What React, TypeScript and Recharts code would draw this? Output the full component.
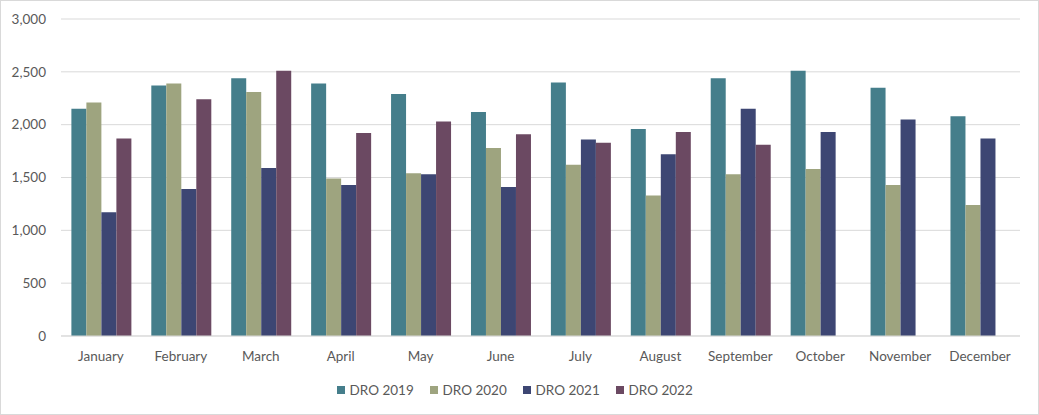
import React from "react"
import {
  BarChart,
  Bar,
  XAxis,
  YAxis,
  CartesianGrid,
} from "recharts"

// ---------------------------------------------------------------------------
// Données
// ---------------------------------------------------------------------------

const months = [
  "January", "February", "March", "April", "May", "June",
  "July", "August", "September", "October", "November", "December",
]

const dro2019 = [2150, 2370, 2440, 2390, 2290, 2120, 2400, 1960, 2440, 2510, 2350, 2080]
const dro2020 = [2210, 2390, 2310, 1490, 1540, 1780, 1620, 1330, 1530, 1580, 1430, 1240]
const dro2021 = [1170, 1390, 1590, 1430, 1530, 1410, 1860, 1720, 2150, 1930, 2050, 1870]
const dro2022 = [1870, 2240, 2510, 1920, 2030, 1910, 1830, 1930, 1810, null, null, null]

const yTicks = [0, 500, 1000, 1500, 2000, 2500, 3000]

const SERIES = [
  { key: "dro2019", name: "DRO 2019", color: "#457e8b" },
  { key: "dro2020", name: "DRO 2020", color: "#9ea47f" },
  { key: "dro2021", name: "DRO 2021", color: "#3d4673" },
  { key: "dro2022", name: "DRO 2022", color: "#6b4962" },
]

const data = months.map((m, i) => ({
  month: m,
  dro2019: dro2019[i],
  dro2020: dro2020[i],
  dro2021: dro2021[i],
  dro2022: dro2022[i],
}))

const FONT = "Lato, 'Open Sans', sans-serif"
const TEXT = "#595959"

// ---------------------------------------------------------------------------
// Légende
// ---------------------------------------------------------------------------

function ChartLegend() {
  return (
    <div
      style={{
        position: "absolute",
        top: 381,
        left: 0,
        width: 1037,
        display: "flex",
        justifyContent: "center",
        paddingLeft: 6,
        boxSizing: "border-box",
      }}
    >
      {SERIES.map((s) => (
        <div
          key={s.key}
          style={{ display: "flex", alignItems: "center", width: 93, fontFamily: FONT, fontSize: 13.5, color: TEXT }}
        >
          <span style={{ width: 8, height: 8, background: s.color, marginRight: 5, display: "inline-block" }} />
          {s.name}
        </div>
      ))}
    </div>
  )
}

// ---------------------------------------------------------------------------
// Component
// ---------------------------------------------------------------------------

export default function App() {
  return (
    <div
      style={{
        position: "absolute",
        left: 0,
        top: 0,
        width: 1037,
        height: 413,
        border: "1px solid #d9d9d9",
        background: "#fff",
      }}
    >
      <BarChart
        width={1037}
        height={413}
        data={data}
        margin={{ top: 18, right: 18, bottom: 48, left: 0 }}
        barGap={0}
        barCategoryGap="13%"
      >
        <CartesianGrid stroke="#d9d9d9" vertical={false} />
        <XAxis
          dataKey="month"
          tick={{ fontSize: 13.5, fill: TEXT, fontFamily: FONT }}
          tickLine={false}
          axisLine={{ stroke: "#d9d9d9" }}
          tickMargin={9}
          interval={0}
          height={30}
        />
        <YAxis
          ticks={yTicks}
          domain={[0, 3000]}
          tick={{ fontSize: 13.5, fill: TEXT, fontFamily: FONT }}
          tickFormatter={(v: number) => v.toLocaleString("en-US")}
          tickLine={false}
          axisLine={false}
          tickMargin={9}
          width={60}
        />
        {SERIES.map((s) => (
          <Bar key={s.key} dataKey={s.key} name={s.name} fill={s.color} isAnimationActive={false} />
        ))}
      </BarChart>
      <ChartLegend />
    </div>
  )
}
